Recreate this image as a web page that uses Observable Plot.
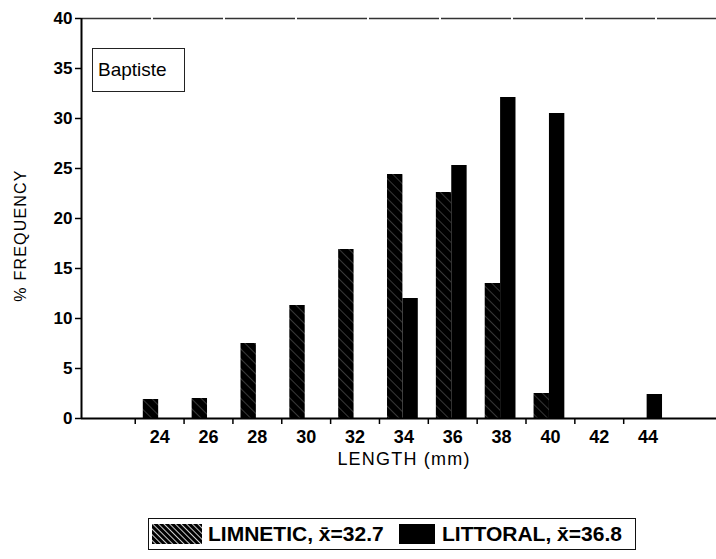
<!DOCTYPE html>
<html>
<head>
<meta charset="utf-8">
<script src="https://cdn.jsdelivr.net/npm/d3@7"></script>
<script src="https://cdn.jsdelivr.net/npm/@observablehq/plot@0.6"></script>
<style>
  body { margin: 0; background: #fff; font-family: "Liberation Sans", Arial, sans-serif; }
  #wrap { position: relative; width: 716px; height: 559px; }
  #tag { position: absolute; left: 92px; top: 48px; width: 86px; height: 42px; border: 1.5px solid #222;
         font-size: 19px; line-height: 42px; padding-left: 5px; box-sizing: content-box; color: #000; }
  #legend { position: absolute; left: 148px; top: 518px; width: 486px; height: 30px; border: 1.5px solid #111; border-bottom-width: 1px;
            font-weight: bold; font-size: 21px; color: #000; }
  #legend > * { position: absolute; }
  .t { top: 3px; line-height: 24px; white-space: nowrap; }
</style>
</head>
<body>
<div id="wrap">
  <div id="chart"></div>
  <div id="tag">Baptiste</div>
  <div id="legend">
    <svg style="left:3px; top:5px" width="50" height="20"><defs><pattern id="lh" patternUnits="userSpaceOnUse" width="4" height="4" patternTransform="rotate(-45)"><rect width="4" height="4" fill="#000"/><line x1="0" y1="0" x2="0" y2="4" stroke="#fff" stroke-width="1.6"/></pattern></defs><rect width="50" height="20" fill="url(#lh)"/></svg>
    <span class="t" style="left:59px">LIMNETIC, x&#772;=32.7</span>
    <span style="left:250px; top:5px; width:36px; height:20px; background:#000"></span>
    <span class="t" style="left:293px">LITTORAL, x&#772;=36.8</span>
  </div>
</div>
<script>
const lengths   = [24, 26, 28, 30, 32, 34, 36, 38, 40, 42, 44];
const limnetic  = [1.9, 2.0, 7.5, 11.3, 16.9, 24.4, 22.6, 13.5, 2.5, 0, 0];
const littoral  = [0, 0, 0, 0, 0, 12.0, 25.3, 32.1, 30.5, 0, 2.4];
const yTicks    = [0, 5, 10, 15, 20, 25, 30, 35, 40];
const xTickMarks = [23, 25, 27, 29, 31, 33, 35, 37, 39, 41, 43];
const xDomain   = [20.8, 46.8];

const W = 0.63, OFF = -0.04;
const rows = [];
lengths.forEach((len, i) => {
  if (limnetic[i] > 0) rows.push({len, v: limnetic[i], s: "LIMNETIC"});
  if (littoral[i] > 0) rows.push({len, v: littoral[i], s: "LITTORAL"});
});

const svg = Plot.plot({
  width: 716, height: 480,
  marginLeft: 81, marginRight: 0, marginTop: 18, marginBottom: 62,
  style: {fontFamily: '"Liberation Sans", Arial, sans-serif', color: "#000", background: "#fff"},
  x: {type: "linear", domain: xDomain, label: null},
  y: {domain: [0, 40], label: null},
  marks: [
    Plot.rectY(rows.filter(d => d.s === "LIMNETIC"), {
      x1: d => d.len - W + OFF, x2: d => d.len + OFF, y: "v", fill: "url(#hatch)"
    }),
    Plot.rectY(rows.filter(d => d.s === "LITTORAL"), {
      x1: d => d.len + OFF, x2: d => d.len + W + OFF, y: "v", fill: "#000"
    }),
    Plot.ruleY([40], {x1: xDomain[0], x2: xDomain[1], stroke: "#333", strokeWidth: 1.5, strokeDasharray: "70,2"}),
    Plot.ruleY([0], {x1: xDomain[0], x2: xDomain[1], stroke: "#000", strokeWidth: 2}),
    Plot.ruleX([xDomain[0]], {y1: 0, y2: 40, stroke: "#000", strokeWidth: 2}),
    Plot.axisY(yTicks, {tickSize: 6, tickPadding: 3, fontWeight: "bold", fontSize: 17, strokeWidth: 1.5, label: null}),
    Plot.axisX(xTickMarks, {tickSize: 6, tickFormat: () => "", strokeWidth: 1.5, label: null}),
    Plot.axisX(lengths, {tickSize: 0, tickPadding: 12, fontWeight: "bold", fontSize: 18, label: null}),
    Plot.text(["% FREQUENCY"], {frameAnchor: "left", textAnchor: "middle", rotate: -90, dx: -61, dy: 17,
      fontSize: 16, fill: "#000", text: d => d}),
    Plot.text(["LENGTH (mm)"], {frameAnchor: "bottom", textAnchor: "middle", dy: 46, dx: 5, fontSize: 18, fill: "#000", text: d => d})
  ]
});

const defs = d3.select(svg).insert("defs", ":first-child");
const p = defs.append("pattern").attr("id", "hatch").attr("patternUnits", "userSpaceOnUse")
  .attr("width", 7).attr("height", 7).attr("patternTransform", "rotate(-45)");
p.append("rect").attr("width", 7).attr("height", 7).attr("fill", "#000");
p.append("line").attr("x1", 0).attr("y1", 0).attr("x2", 0).attr("y2", 7)
  .attr("stroke", "#fff").attr("stroke-width", 0.8).attr("stroke-opacity", 0.55);

d3.select(svg).selectAll("text").filter(function() { return this.textContent === "LENGTH (mm)" || this.textContent === "% FREQUENCY"; })
  .style("letter-spacing", "1.2px");

document.getElementById("chart").appendChild(svg);
</script>
</body>
</html>
